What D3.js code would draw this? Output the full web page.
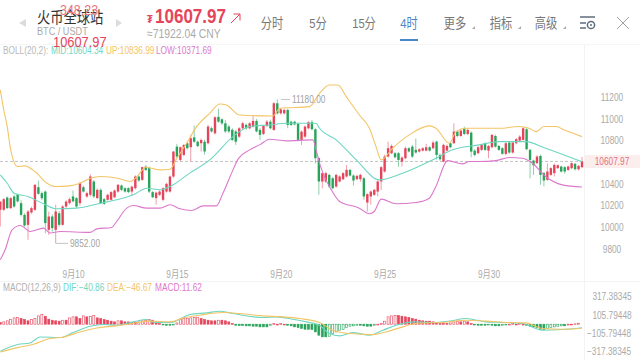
<!DOCTYPE html>
<html>
<head>
<meta charset="utf-8">
<script src="https://d3js.org/d3.v7.min.js"></script>
<style>
    html, body { margin: 0; padding: 0; background: #fff; }
    svg { display: block; }
    text { font-family: "Liberation Sans", "Noto Sans CJK SC", sans-serif; }
    .axis text { fill: #aaa; font-size: 10px; }
    .axis path, .axis line { display: none; }
</style>
</head>
<body>
<svg id="chart" width="640" height="360"></svg>
<script>
    // candles, 4h bars
    var opens = [
        10162,10162,10275,10177,10285,10300,10223,10115,10023,10137,
        10162,10370,10315,10330,9977,10100,9977,10130,10023,10192,
        10223,10285,10269,10223,10370,10285,10300,10423,10270,10346,
        10260,10254,10254,10278,10330,10386,10361,10361,10330,10361,
        10469,10438,10560,10545,10325,10270,10300,10254,10330,10330,
        10469,10745,10622,10668,10776,10739,10830,10790,10776,10790,
        10776,10915,10868,11020,10997,10960,10930,10900,10885,10837,
        10914,10945,10914,10930,10982,10900,10862,10936,10975,10899,
        11145,11052,11052,11083,10975,10975,10955,10807,10837,10914,
        10970,10905,10638,10423,10423,10484,10453,10377,10423,10444,
        10469,10530,10478,10444,10444,10453,10229,10285,10300,10330,
        10423,10515,10653,10684,10684,10684,10607,10638,10730,10745,
        10715,10699,10708,10708,10739,10730,10791,10668,10607,10708,
        10776,10776,10883,10843,10914,10862,10874,10708,10684,10715,
        10776,10708,10739,10843,10751,10730,10678,10782,10690,10776,
        10800,10807,10905,10715,10616,10592,10659,10500,10438,10484,
        10500,10546,10561,10555,10530,10546,10586,10536,10555];
    var closes = [
        10238,10260,10177,10269,10192,10240,10115,10017,10146,10177,
        10392,10310,10269,10039,10100,9993,10146,10023,10192,10238,
        10260,10240,10192,10407,10330,10315,10469,10285,10346,10223,
        10217,10300,10325,10340,10392,10346,10330,10325,10375,10469,
        10432,10555,10530,10330,10278,10320,10330,10361,10401,10469,
        10699,10653,10739,10760,10730,10822,10790,10750,10806,10700,
        10930,10885,11016,10975,10960,10885,10885,10807,10790,10914,
        10960,10914,10960,10982,10885,10853,10936,10975,10914,11145,
        11052,11089,11083,10945,10945,10950,10807,10883,10930,10970,
        10905,10638,10423,10500,10500,10377,10361,10484,10469,10500,
        10530,10478,10432,10475,10484,10285,10306,10330,10346,10423,
        10555,10653,10730,10751,10647,10622,10644,10730,10700,10653,
        10690,10720,10730,10739,10708,10782,10668,10628,10761,10751,
        10739,10883,10843,10893,10862,10899,10699,10668,10739,10761,
        10715,10751,10853,10745,10715,10678,10776,10690,10782,10813,
        10837,10914,10721,10622,10573,10653,10484,10432,10515,10546,
        10576,10573,10515,10515,10561,10592,10536,10567,10607.97];
    var highs = [
        10238,10270,10285,10280,10300,10310,10250,10130,10160,10190,
        10400,10430,10330,10340,10145,10120,10210,10150,10205,10250,
        10275,10340,10280,10420,10385,10330,10490,10435,10360,10360,
        10270,10310,10335,10350,10400,10395,10370,10370,10385,10480,
        10480,10560,10575,10560,10335,10330,10340,10370,10410,10480,
        10705,10770,10745,10770,10785,10850,10940,10800,10820,10810,
        10945,10930,11025,11095,11005,10990,10945,10915,10900,10925,
        10975,10960,10970,11035,11000,10915,10945,10990,10995,11155,
        11180,11100,11095,11095,10985,10985,10965,10895,10940,10980,
        10990,10915,10650,10505,10515,10495,10465,10495,10480,10510,
        10575,10540,10490,10485,10495,10465,10315,10340,10355,10435,
        10565,10670,10790,10765,10695,10695,10655,10745,10740,10760,
        10820,10730,10740,10770,10750,10800,10800,10680,10770,10765,
        10785,10960,10895,10905,10930,10915,10885,10720,10750,10770,
        10785,10760,10860,10855,10760,10740,10785,10790,10790,10825,
        10850,10925,10915,10725,10625,10665,10670,10510,10590,10555,
        10590,10580,10570,10565,10570,10600,10595,10575,10650];
    var lows = [
        10008,10150,10170,10170,10180,10230,10100,10005,9885,10125,
        10150,10300,10250,9945,9930,9960,9852,10005,10015,10180,
        10210,10230,10180,10200,10320,10270,10285,10270,10260,10215,
        10205,10245,10245,10270,10320,10335,10320,10315,10290,10350,
        10420,10430,10520,10315,10270,10210,10290,10240,10320,10320,
        10455,10640,10610,10655,10720,10610,10780,10740,10700,10670,
        10765,10875,10855,10965,10945,10870,10870,10795,10760,10825,
        10905,10900,10905,10920,10875,10805,10850,10925,10905,10890,
        11040,11040,11040,10915,10935,10940,10795,10760,10825,10905,
        10895,10590,10300,10360,10410,10365,10350,10365,10415,10435,
        10460,10470,10385,10435,10420,10255,10145,10210,10290,10285,
        10345,10505,10645,10675,10635,10560,10560,10630,10690,10640,
        10680,10690,10700,10700,10700,10720,10625,10615,10600,10700,
        10730,10770,10830,10835,10850,10850,10647,10655,10675,10705,
        10705,10638,10730,10735,10705,10670,10665,10680,10680,10765,
        10790,10800,10710,10453,10484,10585,10392,10377,10430,10475,
        10470,10540,10505,10495,10520,10535,10525,10525,10545];

    var upBars = [0,1,2,3,5,7,10,13.5,16,20,23,26,29,34,37.5,39.5,42,46,49,51,53.8,56.7,60.5,63.4,65.3,69,78.8,80.7,89.3,92.2,95,97.5,99.9,103.7,106.6,108.5,110,113.3,118.1,123.9,125.8,129.7,131.6,134.5,144,149.8,152.7,154.8,157,160.4,163.3,168];
    var upVals = [11268,11083,10930,10715,10561,10567,10515,10407,10377,10383,10407,10453,10469,10453,10423,10469,10555,10530,10536,10638,10776,10930,11052,11138,11129,11037,11028,11099,11114,11237,11314,11314,11206,11037,10914,10745,10622,10730,10853,10936,10914,10776,10883,10914,10914,10930,10914,10883,10930,10930,10893,10836.99];
    var midBars = [0,2,4,8,12.5,16.3,22,29,33.6,38.4,42.3,46.1,49,54.7,60.5,67.2,72,77.8,82.6,91.2,92.2,97,102.8,109.5,116.2,125.8,130.6,138.3,144,151.7,157.5,168];
    var midVals = [10484,10407,10315,10284,10217,10171,10177,10223,10254,10300,10361,10346,10377,10500,10622,10837,10930,10945,10960,10960,10914,10807,10622,10438,10500,10638,10715,10761,10791,10791,10730,10604.34];
    var lowBars = [0,1.4,3.4,5.8,8.6,12.5,14.4,17.3,25.9,27.9,32.2,33.6,36.5,38.4,42.3,46.1,49,51.9,55.2,58.6,62.4,64.3,66.8,68.7,72,74.9,77.8,82.6,90.3,91.2,92.2,93.2,95.6,98,103.7,106.6,108,110,114.3,120,123.9,125.8,129.2,133.5,135.4,138.3,143.1,147,150.8,153.7,157.5,162.3,168];
    var lowVals = [9701,9793,9977,10017,9962,9993,9947,9962,9953,9986,9999,10054,10177,10201,10177,10177,10208,10171,10155,10198,10198,10315,10500,10632,10715,10761,10813,10798,10807,10715,10592,10500,10346,10238,10177,10125,10146,10260,10217,10229,10269,10377,10616,10586,10607,10607,10616,10644,10638,10592,10469,10392,10371.69];

    // macd histogram, one value per bar
    var macdHist = [
        19,27,39,54,73,77,65,54,39,54,
        65,96,112,92,58,46,39,35,46,46,
        73,85,85,65,96,85,92,100,73,65,
        54,46,35,27,39,39,27,27,19,19,
        27,39,46,54,46,27,8,-4,-12,-12,
        -4,15,58,65,69,73,77,81,65,54,
        46,39,39,46,46,39,27,8,-12,-15,
        -15,-19,-19,-23,-23,-31,-31,-31,-12,8,
        0,8,0,-12,-19,-31,-39,-50,-58,-58,
        -62,-89,-127,
        -146,-146,-139,-108,-89,-69,-62,-39,-23,-19,
        -12,-12,-19,-23,-23,-12,0,8,35,85,
        96,100,100,92,85,77,65,58,46,39,
        35,35,27,15,8,8,8,15,27,35,
        27,35,27,8,-4,-12,-12,-12,-4,-12,
        -19,-19,-12,-4,0,8,0,8,0,-12,
        -23,-31,-42,-62,-62,-50,-39,-31,-23,-19,
        -19,0,0,4,11.62];
    var difBars = [0,5,8.6,11.5,17.3,21,26,30,33.6,38.4,42.3,44.7,49,54.8,59.6,63.4,67.2,75.9,79.7,84.5,88.4,92.2,95,98,101.8,106.6,110.5,114.3,120,124.9,129.7,134.5,140.2,146,150.8,156.6,162.3,168];
    var difVals = [-312,-235,-216,-147,-154,-97,-23,-4,-12,27,54,19,19,112,131,150,123,77,85,58,27,-12,-108,-135,-97,-127,-70,-12,27,19,35,65,27,19,8,-70,-62,-40.86];
    var deaBars = [0,5,9.6,14.4,18.3,23,27.9,33.6,38.4,43.2,49,52.8,57.6,64.4,69.2,75.9,81.7,86.5,92.2,96,100.8,107.6,111.4,116.2,120,128.7,134.5,140.2,147,151.8,156.6,162.3,168];
    var deaVals = [-320,-270,-231,-166,-147,-89,-43,-19,8,35,27,73,104,135,123,96,85,65,19,-70,-108,-120,-89,-31,8,23,46,35,19,15,-50,-58,-46.67];

    // axis labels
    var dateBars = [21,51,81,111,141];
    var dateLabels = ["9月10","9月15","9月20","9月25","9月30"];
    var priceTicks = [11200,11000,10800,10400,10200,10000,9800];
    var macdTicks = [317.38345,105.79448,-105.79448,-317.38345];
    var tabLabels = ["分时","5分","15分","4时"];
    var menuLabels = ["更多","指标","高级"];

    var lastPrice = 10607.97;
    var red = "#e5445a", green = "#27a35a";
    var tealLine = "#6fd6c2", yellowLine = "#f3c566", pinkLine = "#dc78cc";
    var gray = "#a3a3a3";

    var svg = d3.select("#chart");

    var x = d3.scaleLinear().domain([0, 168]).range([0.3, 582]);
    var y = d3.scaleLinear().domain([9800, 11200]).range([249, 97.3]);
    var yMacd = d3.scaleLinear().domain([-317.38345, 317.38345]).range([351.7, 296.7]);

    svg.append("defs").append("clipPath").attr("id", "plot")
        .append("rect").attr("x", 0).attr("y", 58).attr("width", 584).attr("height", 302);

    // header separators and right gutter
    svg.append("line").attr("x1", 0).attr("x2", 640).attr("y1", 44.5).attr("y2", 44.5).attr("stroke", "#f6f6f6");
    svg.append("line").attr("x1", 0).attr("x2", 640).attr("y1", 281.5).attr("y2", 281.5).attr("stroke", "#f3f3f3");
    svg.append("line").attr("x1", 584.5).attr("x2", 584.5).attr("y1", 45).attr("y2", 360).attr("stroke", "#f3f3f3");

    // last price marker
    svg.append("rect").attr("x", 585).attr("y", 155).attr("width", 55).attr("height", 13).attr("fill", "#fdeeee");
    svg.append("line").attr("x1", 0).attr("x2", 584)
        .attr("y1", y(lastPrice)).attr("y2", y(lastPrice))
        .attr("stroke", "#b5b5b5").attr("stroke-width", 0.8).attr("stroke-dasharray", "3,2");
    svg.append("text").attr("x", 612).attr("y", y(lastPrice) + 4).attr("text-anchor", "middle")
        .attr("fill", "#e0707f").attr("font-size", 10).text("10607.97");

    // candles
    var barIdx = d3.range(closes.length);
    var plot = svg.append("g").attr("clip-path", "url(#plot)");
    function barColor(i) { return closes[i] >= opens[i] ? red : green; }

    plot.selectAll(".wick").data(barIdx).enter().append("line")
        .attr("class", "wick")
        .attr("x1", function(i) { return x(i); })
        .attr("x2", function(i) { return x(i); })
        .attr("y1", function(i) { return y(highs[i]); })
        .attr("y2", function(i) { return y(lows[i]); })
        .attr("stroke", barColor).attr("stroke-width", 0.7).attr("stroke-opacity", 0.75);

    plot.selectAll(".body").data(barIdx).enter().append("rect")
        .attr("class", "body")
        .attr("x", function(i) { return x(i) - 1.2; })
        .attr("width", 2.4)
        .attr("y", function(i) { return y(Math.max(opens[i], closes[i])); })
        .attr("height", function(i) { return Math.max(1, Math.abs(y(opens[i]) - y(closes[i]))); })
        .attr("fill", barColor);

    // bollinger
    function drawLine(bars, vals, scale, color) {
        var line = d3.line()
            .x(function(d) { return x(d); })
            .y(function(d, i) { return scale(vals[i]); })
            .curve(d3.curveMonotoneX);
        plot.append("path").attr("d", line(bars))
            .attr("fill", "none").attr("stroke", color).attr("stroke-width", 1.1);
    }
    drawLine(upBars, upVals, y, yellowLine);
    drawLine(midBars, midVals, y, tealLine);
    drawLine(lowBars, lowVals, y, pinkLine);

    // high / low callouts
    svg.append("line").attr("x1", 281).attr("x2", 290).attr("y1", y(11180)).attr("y2", y(11180)).attr("stroke", "#c4c4c4");
    svg.append("text").attr("x", 292).attr("y", y(11180) + 3.5).attr("fill", gray).attr("font-size", 10).text("11180.00");
    svg.append("line").attr("x1", x(16)).attr("x2", 68).attr("y1", y(9852)).attr("y2", y(9852)).attr("stroke", "#c4c4c4");
    svg.append("text").attr("x", 70).attr("y", y(9852) + 3.5).attr("fill", gray).attr("font-size", 10).text("9852.00");

    // macd panel
    plot.selectAll(".hist").data(macdHist).enter().append("rect")
        .attr("class", "hist")
        .attr("x", function(d, i) { return x(i) - 1; })
        .attr("width", 2)
        .attr("y", function(d) { return yMacd(Math.max(d, 0)); })
        .attr("height", function(d) { return Math.max(0.8, Math.abs(yMacd(d) - yMacd(0))); })
        .attr("fill", function(d, i) {
            if (i > 0 && d > macdHist[i - 1]) return "#fff";
            return d >= 0 ? red : green;
        })
        .attr("stroke", function(d) { return d >= 0 ? red : green; })
        .attr("stroke-width", 0.6);
    drawLine(difBars, difVals, yMacd, tealLine);
    drawLine(deaBars, deaVals, yMacd, yellowLine);

    // axes
    var priceAxis = d3.axisRight(y).tickValues(priceTicks).tickSize(0).tickFormat(d3.format("d"));
    svg.append("g").attr("class", "axis").attr("transform", "translate(594,0)").call(priceAxis)
        .selectAll("text").attr("x", 18).attr("text-anchor", "middle");

    var macdAxis = d3.axisRight(yMacd).tickValues(macdTicks).tickSize(0)
        .tickFormat(function(d) { return d3.format(".5f")(d).replace("-", "−"); });
    svg.append("g").attr("class", "axis").attr("transform", "translate(594,0)").call(macdAxis)
        .selectAll("text").attr("text-anchor", "middle")
        .attr("x", function(d) { return d < 0 ? 15 : 18; });

    var dateAxis = d3.axisBottom(x).tickValues(dateBars).tickSize(0)
        .tickFormat(function(d, i) { return dateLabels[i]; });
    svg.append("g").attr("class", "axis").attr("transform", "translate(0,268)").call(dateAxis);

    // indicator legends
    function legend(yPos, parts) {
        parts.forEach(function(p) {
            svg.append("text").attr("x", p[0]).attr("y", yPos).attr("font-size", 10).attr("fill", p[2]).text(p[1]);
        });
    }
    legend(54, [[3, "BOLL(20,2):", "#b8b8b8"], [51, "MID:10604.34", "#6fd6c2"], [106, "UP:10836.99", "#f3c566"], [156, "LOW:10371.69", "#dc78cc"]]);
    legend(290.5, [[3, "MACD(12,26,9)", "#b0b0b0"], [63, "DIF:−40.86", "#6fd6c2"], [107, "DEA:−46.67", "#f3c566"], [155, "MACD:11.62", "#dc78cc"]]);

    // header
    svg.append("path").attr("d", "M26,19 L19,23 L26,27 Z").attr("fill", "#dcdcdc");
    svg.append("path").attr("d", "M116,19 L122,23 L116,27 Z").attr("fill", "#dcdcdc");
    svg.append("text").attr("x", 37).attr("y", 22.5).attr("font-size", 16).attr("fill", "#333").text("火币全球站");
    svg.append("text").attr("x", 60).attr("y", 15).attr("font-size", 15).attr("fill", "#ec7480").text("348.23");
    svg.append("text").attr("x", 37).attr("y", 35).attr("font-size", 11).attr("fill", "#aaa").text("BTC / USDT");
    svg.append("text").attr("x", 53).attr("y", 46.5).attr("font-size", 15.5).attr("fill", "#e5445a").text("10607.97");

    svg.append("text").attr("x", 147).attr("y", 23).attr("font-size", 11).attr("font-weight", "bold").attr("fill", "#e5445a").text("₮");
    svg.append("text").attr("x", 155).attr("y", 23).attr("font-size", 20.5).attr("font-weight", "bold").attr("fill", "#e5445a").text("10607.97");
    svg.append("path").attr("d", "M231,23 L240,14 M233.5,14 L240,14 L240,20.5").attr("fill", "none").attr("stroke", "#e5445a");
    svg.append("text").attr("x", 147).attr("y", 38).attr("font-size", 12.5).attr("fill", "#aaa").text("≈71922.04 CNY");

    // timeframe tabs
    var tabX = [272, 318, 364, 409];
    svg.selectAll(".tab").data(tabLabels).enter().append("text")
        .attr("class", "tab").attr("text-anchor", "middle")
        .attr("x", function(d, i) { return tabX[i]; }).attr("y", 27.5)
        .attr("font-size", 13.5)
        .attr("fill", function(d, i) { return i == 3 ? "#4a86c8" : "#777"; })
        .text(function(d) { return d; });
    svg.append("rect").attr("x", 400).attr("y", 39).attr("width", 18).attr("height", 2).attr("fill", "#4a86c8");

    var menuX = [455, 501, 546];
    svg.selectAll(".menu").data(menuLabels).enter().append("text")
        .attr("class", "menu").attr("text-anchor", "middle")
        .attr("x", function(d, i) { return menuX[i]; }).attr("y", 27.5)
        .attr("font-size", 13.5).attr("fill", "#777")
        .text(function(d) { return d; });
    svg.selectAll(".caret").data(menuX).enter().append("path")
        .attr("class", "caret")
        .attr("d", function(d) { return "M" + (d + 20) + ",26 L" + (d + 20) + ",29 L" + (d + 17) + ",29 Z"; })
        .attr("fill", "#aaa");

    // settings icon and close
    svg.append("path").attr("d", "M580,17 H595 M580,23 H586 M580,28 H586").attr("stroke", "#5d6d7e").attr("stroke-width", 1.6).attr("fill", "none");
    svg.append("circle").attr("cx", 591).attr("cy", 25).attr("r", 3.6).attr("fill", "none").attr("stroke", "#5d6d7e").attr("stroke-width", 1.5);
    svg.append("circle").attr("cx", 591).attr("cy", 25).attr("r", 1).attr("fill", "#5d6d7e");
    svg.append("path").attr("d", "M617,17 L629,29 M629,17 L617,29").attr("stroke", "#999").attr("stroke-width", 0.9);

    // the screenshot is squeezed sideways, so all the text runs narrow
    svg.selectAll("text").each(function() {
        var len = this.getComputedTextLength();
        d3.select(this).attr("textLength", len * 0.83).attr("lengthAdjust", "spacingAndGlyphs");
    });
</script>
</body>
</html>
